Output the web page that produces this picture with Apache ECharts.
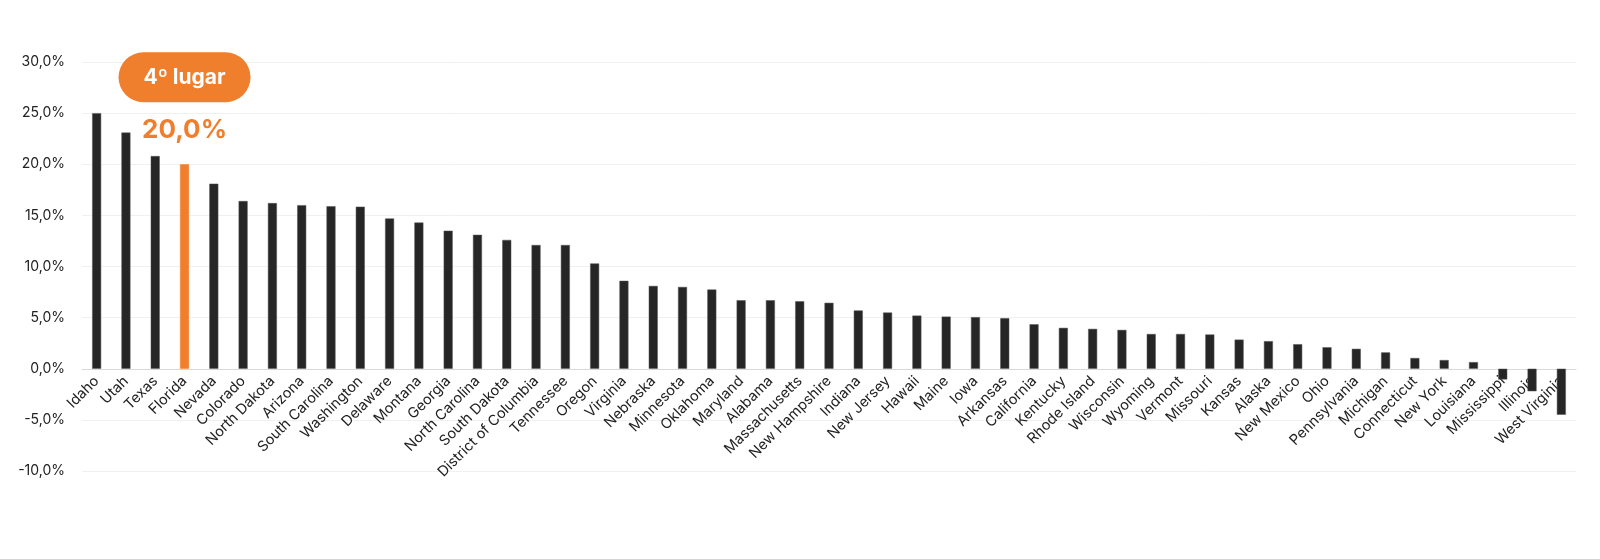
<!DOCTYPE html>
<html>
<head>
<meta charset="utf-8">
<script src="https://cdn.jsdelivr.net/npm/echarts@6/dist/echarts.min.js"></script>
<style>
html,body{margin:0;padding:0;background:#fff;}
#c{width:1600px;height:559px;}
</style>
</head>
<body>
<div id="c"></div>
<script>
const states = ['Idaho','Utah','Texas','Florida','Nevada','Colorado','North Dakota','Arizona','South Carolina','Washington','Delaware','Montana','Georgia','North Carolina','South Dakota','District of Columbia','Tennessee','Oregon','Virginia','Nebraska','Minnesota','Oklahoma','Maryland','Alabama','Massachusetts','New Hampshire','Indiana','New Jersey','Hawaii','Maine','Iowa','Arkansas','California','Kentucky','Rhode Island','Wisconsin','Wyoming','Vermont','Missouri','Kansas','Alaska','New Mexico','Ohio','Pennsylvania','Michigan','Connecticut','New York','Louisiana','Mississippi','Illinois','West Virginia'];
const growth = [25.0,23.1,20.8,20.0,18.1,16.4,16.2,16.0,15.9,15.85,14.7,14.3,13.5,13.1,12.6,12.1,12.1,10.3,8.6,8.1,8.0,7.75,6.7,6.7,6.6,6.45,5.7,5.5,5.2,5.1,5.05,4.95,4.35,4.0,3.9,3.8,3.4,3.4,3.35,2.85,2.7,2.4,2.1,1.95,1.6,1.05,0.85,0.65,-1.05,-2.2,-4.5];
const highlight = 'Florida';
const rankText = '4º lugar';
const yTicks = {min:-10, max:30, interval:5};

const ORANGE = '#F07F2D';
const DARK = '#262626';
const FONT = 'Inter';
const fmt = v => v.toFixed(1).replace('.', ',') + '%';

const data = states.map((s, i) => {
  const v = growth[i];
  if (s === highlight) {
    return {
      value: v,
      itemStyle: {color: ORANGE, borderColor: ORANGE},
      label: {
        show: true,
        position: 'top',
        distance: 6,
        formatter: '{pill|' + rankText + '}\n{v|' + fmt(v) + '}',
        rich: {
          pill: {backgroundColor: ORANGE, color: '#fff', fontSize: 21, fontWeight: 'bold', fontFamily: FONT,
                 borderRadius: 25, height: 50, lineHeight: 50, width: 88, padding: [0, 22], align: 'center'},
          v: {color: ORANGE, fontSize: 26, fontWeight: 'bold', fontFamily: FONT, lineHeight: 56, height: 56, align: 'center'}
        }
      }
    };
  }
  return v;
});

const chart = echarts.init(document.getElementById('c'));
chart.setOption({
  animation: false,
  backgroundColor: '#fff',
  grid: {left: 82, right: 24, top: 62, bottom: 88, containLabel: false, outerBoundsMode: 'none'},
  xAxis: {
    type: 'category',
    data: states,
    axisLine: {onZero: false, lineStyle: {color: '#d9d9d9', width: 1}},
    axisTick: {show: false},
    axisLabel: {interval: 0, rotate: 45, fontSize: 14.5, color: '#222', fontFamily: FONT, margin: 10}
  },
  yAxis: {
    type: 'value',
    min: yTicks.min, max: yTicks.max, interval: yTicks.interval,
    axisLine: {show: false},
    axisTick: {show: false},
    splitLine: {lineStyle: {color: '#f0f0f0', width: 1}},
    axisLabel: {formatter: fmt, fontSize: 14, color: '#222', fontFamily: FONT, margin: 17}
  },
  series: [{
    type: 'bar',
    data: data,
    barWidth: 9,
    itemStyle: {color: DARK, borderColor: '#555', borderWidth: 0.5}
  }]
});
// move the category axis (line + labels) up to the zero baseline using the library's own scale
const yZero = chart.convertToPixel({yAxisIndex: 0}, 0);
const yBottom = chart.convertToPixel({yAxisIndex: 0}, yTicks.min);
chart.setOption({xAxis: {offset: -(yBottom - yZero)}});
</script>
</body>
</html>
